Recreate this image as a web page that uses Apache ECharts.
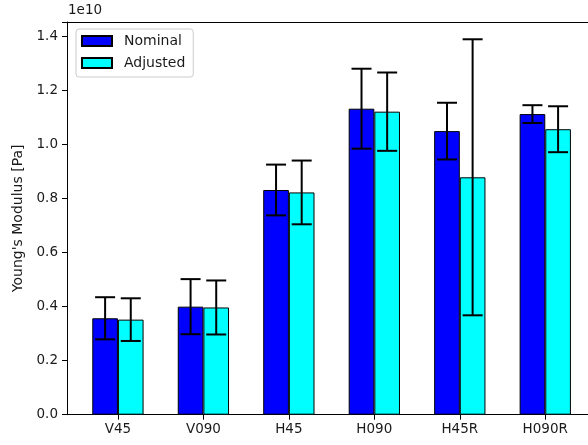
<!DOCTYPE html>
<html>
<head>
<meta charset="utf-8">
<script src="https://cdn.jsdelivr.net/npm/echarts@6/dist/echarts.min.js"></script>
<style>
html,body{margin:0;padding:0;background:#fff;}
#chart{width:588px;height:445px;}
</style>
</head>
<body>
<div id="chart"></div>
<script>
// values in units of 1e10 Pa
const categories = ['V45', 'V090', 'H45', 'H090', 'H45R', 'H090R'];
const nominal = [0.357, 0.400, 0.832, 1.133, 1.050, 1.113];
const nominalErr = [0.078, 0.102, 0.094, 0.148, 0.105, 0.033];
const adjusted = [0.352, 0.397, 0.823, 1.122, 0.879, 1.057];
const adjustedErr = [0.079, 0.100, 0.118, 0.145, 0.511, 0.085];
const yTicks = [0.0, 0.2, 0.4, 0.6, 0.8, 1.0, 1.2, 1.4];
const seriesNames = ['Nominal', 'Adjusted'];

const FONT = 'DejaVu Sans';
const TXT = '#1a1a1a';
const YMAX = 1.454;

function errData(vals, errs) {
  return vals.map((v, i) => [i, v, errs[i]]);
}

function errRender(sign) {
  return function (params, api) {
    const idx = api.value(0);
    const v = api.value(1);
    const e = api.value(2);
    const band = api.size([1, 0])[0];
    const x = api.coord([idx, v])[0] + sign * band * 0.15;
    const yTop = api.coord([idx, v + e])[1];
    const yBot = api.coord([idx, v - e])[1];
    const cap = 10;
    const style = { stroke: '#000', lineWidth: 2 };
    return {
      type: 'group',
      children: [
        { type: 'line', shape: { x1: x, y1: yTop, x2: x, y2: yBot }, style: style },
        { type: 'line', shape: { x1: x - cap, y1: yTop, x2: x + cap, y2: yTop }, style: style },
        { type: 'line', shape: { x1: x - cap, y1: yBot, x2: x + cap, y2: yBot }, style: style }
      ]
    };
  };
}

const spine = { show: true, onZero: false, lineStyle: { color: '#000', width: 1 } };

const chart = echarts.init(document.getElementById('chart'), null, { renderer: 'canvas' });
chart.setOption({
  animation: false,
  backgroundColor: '#fff',
  textStyle: { fontFamily: FONT },
  graphic: [
    { type: 'text', left: 68, top: 3, style: { text: '1e10', font: '13.5px "DejaVu Sans"', fill: TXT } },
    { type: 'line', shape: { x1: 67, y1: 22.5, x2: 590, y2: 22.5 }, style: { stroke: '#000', lineWidth: 1 }, silent: true }
  ],
  legend: {
    data: seriesNames,
    orient: 'vertical',
    left: 76,
    top: 29,
    padding: [5, 8, 7, 5],
    itemGap: 8,
    itemWidth: 30,
    itemHeight: 10,
    icon: 'rect',
    backgroundColor: 'rgba(255,255,255,0.8)',
    borderColor: '#cccccc',
    borderWidth: 1,
    borderRadius: 3,
    textStyle: { fontFamily: FONT, fontSize: 14, color: TXT, padding: [0, 0, 0, 7] }
  },
  grid: [
    { left: 67, top: 22, width: 530, bottom: 30.3 },
    { left: 75.2, top: 22, width: 513.6, bottom: 30.3 }
  ],
  xAxis: [
    { gridIndex: 0, type: 'value', min: 0, max: 1, position: 'bottom', axisLine: spine, axisTick: { show: false }, axisLabel: { show: false }, splitLine: { show: false } },
    {
      gridIndex: 1, type: 'category', data: categories,
      axisLine: spine,
      axisTick: { show: true, alignWithLabel: true, length: 5, lineStyle: { color: '#000' } },
      axisLabel: { fontFamily: FONT, fontSize: 13.5, color: TXT, margin: 8 }
    }
  ],
  yAxis: [
    {
      gridIndex: 0, type: 'value', min: 0, max: YMAX, interval: 0.2,
      name: "Young's Modulus [Pa]", nameLocation: 'middle', nameGap: 40,
      nameTextStyle: { fontFamily: FONT, fontSize: 14, color: TXT },
      axisLine: spine,
      axisTick: { show: true, length: 5, lineStyle: { color: '#000' } },
      axisLabel: {
        fontFamily: FONT, fontSize: 13.5, color: TXT, margin: 9,
        formatter: function (v) {
          const t = yTicks.find(k => Math.abs(k - v) < 1e-6);
          return t === undefined ? '' : t.toFixed(1);
        }
      },
      splitLine: { show: false }
    },
    { gridIndex: 1, type: 'value', min: 0, max: YMAX, show: false }
  ],
  series: [
    {
      name: seriesNames[0], type: 'bar', xAxisIndex: 1, yAxisIndex: 1,
      data: nominal, barWidth: '30%', barGap: '0%',
      itemStyle: { color: '#0000ff', borderColor: '#000', borderWidth: 1 }, z: 2
    },
    {
      name: seriesNames[1], type: 'bar', xAxisIndex: 1, yAxisIndex: 1,
      data: adjusted, barWidth: '30%', barGap: '0%',
      itemStyle: { color: '#00ffff', borderColor: '#000', borderWidth: 1 }, z: 2
    },
    {
      name: 'nominalErr', type: 'custom', xAxisIndex: 1, yAxisIndex: 1,
      data: errData(nominal, nominalErr), renderItem: errRender(-1), z: 5, silent: true
    },
    {
      name: 'adjustedErr', type: 'custom', xAxisIndex: 1, yAxisIndex: 1,
      data: errData(adjusted, adjustedErr), renderItem: errRender(1), z: 5, silent: true
    }
  ]
});
</script>
</body>
</html>
